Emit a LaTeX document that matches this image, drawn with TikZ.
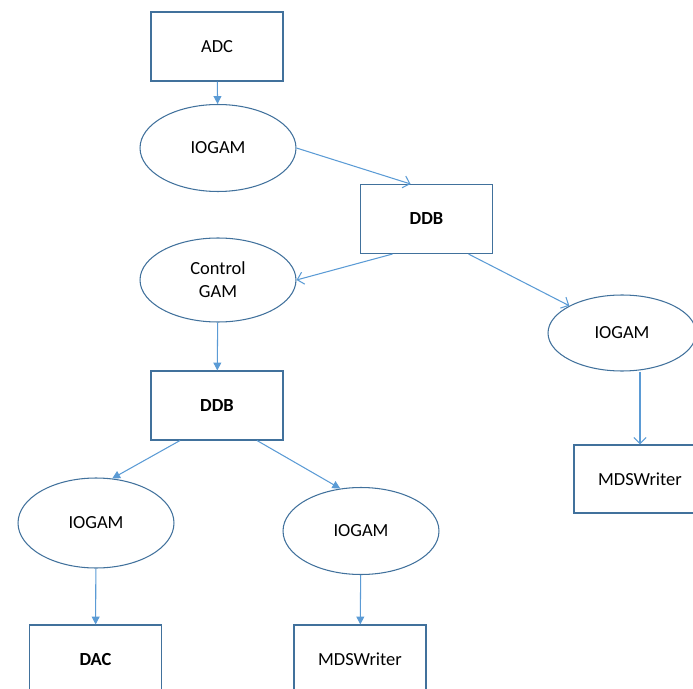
\documentclass[tikz,border=0pt]{standalone}
\usepackage{fontspec}
\setmainfont{Carlito}
\usetikzlibrary{shapes.geometric,arrows.meta}
\definecolor{outline}{HTML}{41719C}
\definecolor{linkblue}{HTML}{5B9BD5}
\begin{document}
\begin{tikzpicture}[x=0.02cm, y=-0.02cm,
  every node/.style={font=\fontsize{10.5}{13}\selectfont},
  blockbox/.style={draw=outline, line width=0.6pt, inner sep=0pt,
    minimum width=2.64cm, minimum height=1.38cm},
  gamnode/.style={draw=outline, line width=0.6pt, ellipse, inner sep=0pt,
    minimum width=3.12cm, minimum height=1.74cm},
  flow/.style={draw=linkblue, line width=0.6pt,
    -{Triangle[length=4.5pt,width=4.5pt]}},
  openflow/.style={draw=linkblue, line width=0.6pt,
    -{Straight Barb[length=3.5pt,width=7pt]}}]
\useasboundingbox (0,0) rectangle (693,689);
\clip (0,0) rectangle (693,689);
%
% ---- Nodes ----
\node[blockbox] (adc) at (217,46.5) {ADC};
\node[gamnode] (iogamA) at (218,148) {IOGAM};
\node[blockbox, font=\fontsize{10.5}{13}\selectfont\bfseries] (ddbA) at (426.5,219) {DDB};
\node[gamnode, minimum height=1.68cm, align=center] (ctrl) at (218,280) {Control\\GAM};
\node[gamnode, minimum width=2.96cm, minimum height=1.52cm] (iogamR) at (622,333) {IOGAM};
\node[blockbox, font=\fontsize{10.5}{13}\selectfont\bfseries] (ddbB) at (217,405.5) {DDB};
\node[blockbox, minimum height=1.36cm] (mdsR) at (640,479) {MDSWriter};
\node[gamnode, minimum height=1.8cm] (iogamL) at (96,523) {IOGAM};
\node[gamnode] (iogamM) at (361,531) {IOGAM};
\node[blockbox, font=\fontsize{10.5}{13}\selectfont\bfseries] (dac) at (95.5,659.5) {DAC};
\node[blockbox] (mdsM) at (360,659.5) {MDSWriter};
%
% ---- Data flow ----
\draw[flow] (adc) -- (iogamA);
\draw[openflow] (iogamA.east) -- ([xshift=-0.32cm]ddbA.north);
\draw[openflow] ([xshift=-0.68cm]ddbA.south) -- (ctrl.east);
\draw[openflow] ([xshift=0.84cm]ddbA.south) -- (iogamR.north west);
\draw[openflow] (mdsR.north |- iogamR.south) -- (mdsR.north);
\draw[flow] (ctrl) -- (ddbB);
\draw[flow] ([xshift=-0.74cm]ddbB.south) -- (iogamL.70);
\draw[flow] ([xshift=0.8cm]ddbB.south) -- (iogamM.116);
\draw[flow] (iogamL) -- (dac);
\draw[flow] (iogamM) -- (mdsM);
\end{tikzpicture}
\end{document}
